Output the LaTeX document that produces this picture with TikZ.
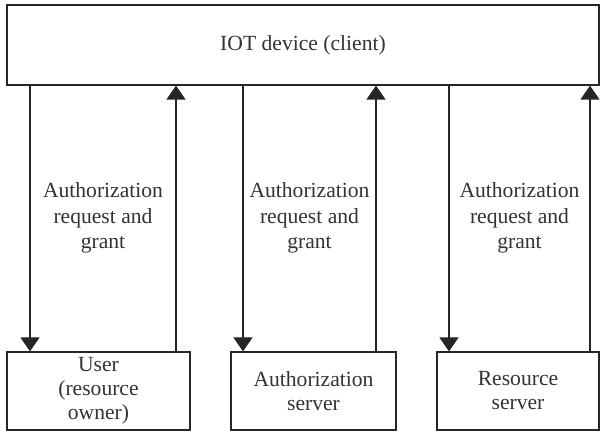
\documentclass[tikz,border=0pt]{standalone}
\usepackage{fontspec}
\setmainfont{Liberation Serif}
\usetikzlibrary{arrows.meta}
\tikzset{box style/.style={
		draw=black!85,
		line width=0.6pt,
		text=black!80,
		rectangle,
		align=center,
		inner sep=0pt,
		font=\fontsize{10.8}{12}\selectfont,
	},
	grant style/.style={
		text=black!80,
		align=center,
		inner sep=0pt,
		font=\fontsize{10.8}{12.6}\selectfont,
	},
	flow style/.style={
		draw=black!85,
		line width=0.6pt,
		-{Triangle[width=9.5pt,length=7pt]}
	}
}

\begin{document}
\begin{tikzpicture}[x=0.5pt,y=-0.5pt]
	\useasboundingbox (0,0) rectangle (607,432);

	\node[box style, minimum width=296pt, minimum height=40pt] (IOT) at (303,45) {IOT device (client)};

	\node[box style, minimum width=91.5pt, minimum height=39pt] (User) at (98.5,391) {User\\(resource\\owner)};
	\node[box style, minimum width=82.5pt, minimum height=39pt] (AuthServer) at (313.5,391) {Authorization\\server};
	\node[box style, minimum width=81pt, minimum height=39pt] (ResServer) at (518,391) {Resource\\server};

	% x positions of the arrows
	\coordinate (UserDown) at (30,0);
	\coordinate (UserUp) at (176,0);
	\coordinate (AuthDown) at (243,0);
	\coordinate (AuthUp) at (376,0);
	\coordinate (ResDown) at (449,0);
	\coordinate (ResUp) at (590,0);

	\draw[flow style] (IOT.south -| UserDown) -- (User.north -| UserDown);
	\draw[flow style] (User.north -| UserUp) -- (IOT.south -| UserUp);
	\draw[flow style] (IOT.south -| AuthDown) -- (AuthServer.north -| AuthDown);
	\draw[flow style] (AuthServer.north -| AuthUp) -- (IOT.south -| AuthUp);
	\draw[flow style] (IOT.south -| ResDown) -- (ResServer.north -| ResDown);
	\draw[flow style] (ResServer.north -| ResUp) -- (IOT.south -| ResUp);

	\node[grant style] (UserGrant) at (103,218) {Authorization\\request and\\grant};
	\node[grant style] (AuthGrant) at (309.5,218) {Authorization\\request and\\grant};
	\node[grant style] (ResGrant) at (519.5,218) {Authorization\\request and\\grant};
\end{tikzpicture}
\end{document}
